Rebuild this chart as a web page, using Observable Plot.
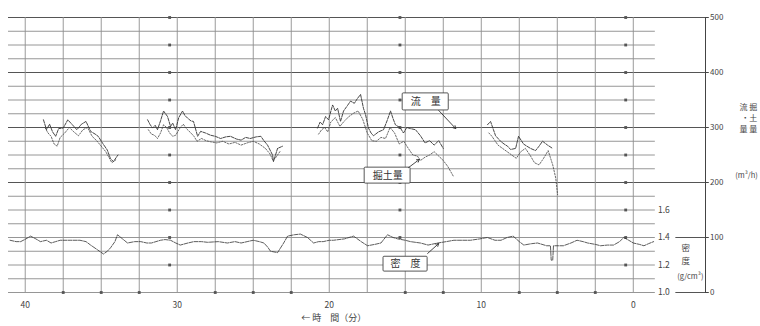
<!DOCTYPE html>
<html><head><meta charset="utf-8">
<script src="https://cdn.jsdelivr.net/npm/d3@7"></script>
<script src="https://cdn.jsdelivr.net/npm/@observablehq/plot@0.6"></script>
<style>body{margin:0;background:#fff}</style>
</head><body><div id="chart"></div>
<script>
// time (minutes before end) , value (m3/h); NaN = gap in record
const flowSeries = [
 [38.8,314],[38.6,296],[38.4,306],[38.2,292],[38.0,284],[37.8,298],[37.5,299],[37.2,314],[36.9,305],[36.6,296],[36.3,306],[36.0,311],[35.7,293],[35.4,288],[35.2,284],[34.9,271],[34.6,259],[34.4,244],[34.2,238],[33.9,250],
 [33.0,NaN],
 [31.95,314],[31.8,306],[31.63,299],[31.45,304],[31.3,296],[31.1,312],[30.9,330],[30.64,320],[30.44,302],[30.3,308],[30.11,296],[29.9,318],[29.65,330],[29.5,322],[29.32,317],[29.1,312],[28.93,311],[28.66,284],[28.46,293],[28.14,290],[27.81,286],[27.5,284],[27.15,280],[26.8,283],[26.5,284],[26.1,279],[25.8,277],[25.5,282],[25.2,280],[24.8,283],[24.5,284],[24.3,276],[24.06,268],[23.73,250],[23.67,238],[23.4,262],[23.07,266],
 [22.0,NaN],
 [20.77,299],[20.6,310],[20.44,305],[20.24,320],[20.05,314],[19.78,341],[19.6,330],[19.45,335],[19.26,311],[19.06,330],[18.8,340],[18.6,348],[18.35,344],[18.14,353],[17.94,360],[17.75,335],[17.61,323],[17.42,299],[17.25,290],[17.09,285],[16.76,292],[16.43,296],[16.2,312],[15.97,330],[15.8,316],[15.65,305],[15.32,299],[15.12,290],[14.9,300],[14.66,298],[14.33,296],[14.0,285],[13.7,272],[13.4,276],[13.1,268],[12.8,276],[12.5,262],
 [11.0,NaN],
 [9.59,305],[9.39,311],[9.2,296],[9.06,285],[8.73,275],[8.5,270],[8.27,266],[8.07,260],[7.74,262],[7.55,284],[7.22,270],[7.0,266],[6.76,262],[6.43,258],[6.2,266],[5.97,275],[5.64,268],[5.31,262]
];
const soilSeries = [
 [38.7,300],[38.5,290],[38.3,284],[38.1,270],[37.9,266],[37.7,282],[37.4,290],[37.1,300],[36.8,292],[36.5,285],[36.2,296],[35.9,300],[35.6,284],[35.3,276],[35.0,266],[34.7,256],[34.5,246],[34.3,236],[34.0,242],
 [33.0,NaN],
 [31.9,296],[31.7,288],[31.5,286],[31.3,280],[31.1,290],[30.9,305],[30.7,300],[30.5,290],[30.3,284],[30.1,286],[29.8,300],[29.6,306],[29.4,298],[29.1,290],[28.9,284],[28.7,275],[28.4,280],[28.1,276],[27.8,274],[27.4,272],[27.0,275],[26.6,270],[26.2,273],[25.8,268],[25.4,272],[25.0,275],[24.6,270],[24.2,262],[23.9,252],[23.7,240],[23.5,246],[23.2,258],
 [22.0,NaN],
 [20.7,288],[20.5,296],[20.3,300],[20.1,292],[19.9,310],[19.6,318],[19.3,302],[19.0,312],[18.7,320],[18.4,326],[18.1,330],[17.8,315],[17.5,290],[17.2,276],[16.9,275],[16.6,282],[16.3,280],[16.0,300],[15.7,290],[15.4,270],[15.1,275],[14.8,262],[14.5,250],[14.2,248],[14.0,240],[13.7,246],[13.4,250],[13.1,256],[12.8,248],[12.5,240],[12.2,229],[11.83,211],
 [11.0,NaN],
 [9.5,290],[9.3,284],[9.1,276],[8.9,268],[8.6,262],[8.3,256],[8.0,250],[7.7,244],[7.4,256],[7.1,262],[6.8,250],[6.5,236],[6.2,232],[5.9,244],[5.6,258],[5.3,232],[5.1,208],[4.98,178]
];
// density g/cm3
const densitySeries = [
 [41.0,1.38],[40.6,1.37],[40.3,1.37],[39.95,1.39],[39.65,1.41],[39.3,1.39],[39.0,1.37],[38.6,1.38],[38.3,1.36],[38.0,1.37],[37.7,1.38],[37.0,1.38],[36.4,1.38],[36.0,1.37],[35.7,1.345],[35.24,1.31],[34.85,1.28],[34.6,1.30],[34.39,1.325],[34.1,1.37],[33.93,1.42],[33.6,1.39],[33.27,1.36],[32.8,1.37],[32.4,1.37],[32.0,1.36],[31.7,1.36],[31.4,1.37],[31.1,1.38],[30.8,1.385],[30.44,1.38],[30.1,1.36],[29.8,1.345],[29.3,1.36],[28.9,1.37],[28.4,1.37],[28.0,1.365],[27.3,1.37],[26.7,1.36],[26.2,1.37],[25.8,1.36],[25.4,1.37],[25.0,1.38],[24.6,1.37],[24.3,1.36],[24.05,1.33],[23.86,1.30],[23.4,1.29],[23.0,1.36],[22.74,1.41],[22.3,1.42],[21.9,1.425],[21.43,1.40],[21.03,1.36],[20.7,1.37],[20.4,1.37],[20.0,1.38],[19.72,1.38],[19.0,1.39],[18.4,1.41],[17.9,1.37],[17.48,1.34],[17.0,1.35],[16.6,1.36],[16.17,1.42],[15.8,1.40],[15.5,1.39],[15.0,1.38],[14.66,1.37],[14.0,1.36],[13.5,1.345],[12.86,1.36],[12.3,1.37],[11.8,1.38],[11.2,1.38],[10.7,1.38],[10.1,1.39],[9.6,1.40],[9.1,1.38],[8.7,1.38],[8.3,1.40],[7.9,1.41],[7.5,1.37],[7.2,1.345],[6.7,1.355],[6.3,1.36],[5.7,1.34],[5.45,1.34],[5.4,1.235],[5.3,1.235],[5.25,1.34],[4.9,1.34],[4.6,1.34],[4.1,1.36],[3.7,1.38],[3.3,1.37],[3.0,1.36],[2.5,1.35],[2.15,1.34],[1.7,1.345],[1.3,1.345],[0.9,1.37],[0.63,1.40],[0.3,1.38],[0.0,1.36],[-0.4,1.35],[-0.7,1.34],[-1.0,1.355],[-1.34,1.37]
];
const timeTicks = [40, 30, 20, 10, 0];
const rateTicks = [0, 100, 200, 300, 400, 500];
const densityTicks = [1.0, 1.2, 1.4, 1.6];
const markerColumns = [30.5, 15.35, 0.5];
const bottomMarkers = [37.5, 35, 32.5, 27.5, 25, 22.5, 15, 12.5, 7.5, 5, 2.5];
const boxes = [
 {label:"流　量", x1:15.17, x2:12.14, y1:331, y2:362, ax1:12.8, ay1:331, ax2:11.68, ay2:298},
 {label:"掘土量", x1:17.67, x2:14.65, y1:198, y2:227, ax1:14.79, ay1:227, ax2:14.07, ay2:242},
 {label:"密　度", x1:16.43, x2:13.53, y1:38, y2:65, ax1:13.53, ay1:71, ax2:12.8, ay2:89}
];
const rateTitle = ["流 掘", "・土", "量 量"];
const densityTitle = ["密", "度"];

const dens = d => (d - 1) * 250; // density on the shared right scale
const gridLevels = d3.range(0, 501, 25);
const timeGrid = d3.range(0, 40.01, 2.5);
const markers = markerColumns.flatMap(t => d3.range(50, 501, 50).map(v => [t, v]));
const X0 = 41.1, XG = -1.45, XA = -4.75;
const ink = "#444", font = "'Noto Sans CJK JP', 'Noto Sans', sans-serif";

const chart = Plot.plot({
  width: 760, height: 326,
  marginLeft: 8, marginRight: 55, marginTop: 17, marginBottom: 34,
  x: {domain: [X0, XA], axis: null},
  y: {domain: [0, 500], axis: null},
  style: {fontFamily: font, background: "#fff", color: ink},
  marks: [
    Plot.ruleY(gridLevels, {x1: X0, x2: XG, stroke: "#8a8a8a", strokeWidth: 0.9}),
    Plot.ruleY([200, 300, 400, 500], {x1: X0, x2: XA, stroke: "#555", strokeWidth: 1}),
    Plot.ruleY([0, 100], {x1: -2.8, x2: XA, stroke: "#555", strokeWidth: 1}),
    Plot.ruleX(timeGrid, {y1: 0, y2: 500, stroke: "#8f8f8f", strokeWidth: 0.9}),
    Plot.ruleX([XA], {y1: 0, y2: 500, stroke: "#444", strokeWidth: 1}),
    Plot.ruleY(rateTicks, {x1: XA, x2: -5.0, stroke: "#444"}),
    Plot.dot(markers, {x: d => d[0], y: d => d[1], symbol: "square", r: 1.6, fill: "#555"}),
    Plot.dot(bottomMarkers, {x: d => d, y: 0, symbol: "square", r: 1.6, fill: "#555"}),
    Plot.line(densitySeries, {x: d => d[0], y: d => dens(d[1]), stroke: "#333", strokeWidth: 0.8, strokeDasharray: "4,1.2"}),
    Plot.line(soilSeries, {x: d => d[0], y: d => d[1], stroke: "#444", strokeWidth: 0.8, strokeDasharray: "1.5,1.5"}),
    Plot.line(flowSeries, {x: d => d[0], y: d => d[1], stroke: "#333", strokeWidth: 0.9, strokeDasharray: "3,1.2"}),
    Plot.rect(boxes, {x1: "x1", x2: "x2", y1: "y1", y2: "y2", fill: "#fff", stroke: "#444", strokeWidth: 0.9, rx: 1}),
    Plot.text(boxes, {x: d => (d.x1 + d.x2) / 2, y: d => (d.y1 + d.y2) / 2, text: "label", fontSize: 10, fill: "#333"}),
    Plot.arrow(boxes, {x1: "ax1", y1: "ay1", x2: "ax2", y2: "ay2", stroke: "#333", strokeWidth: 0.9, headLength: 5}),
    Plot.text(rateTicks, {x: -5.05, y: d => d, text: d => String(d), textAnchor: "start", fontSize: 8, fill: ink}),
    Plot.text(densityTicks, {x: -1.62, y: dens, text: d => d.toFixed(1), textAnchor: "start", fontSize: 8.5, fill: ink}),
    Plot.text(timeTicks, {x: d => d, y: -23, text: d => String(d), fontSize: 8.5, fill: ink}),
    Plot.text(["← 時　間（分）"], {x: 19.7, y: -47, text: d => d, fontSize: 9, fill: ink}),
    Plot.text(rateTitle, {x: -8.15, y: (d, i) => [337, 317, 297][i], text: d => d, textAnchor: "end", fontSize: 8, fill: ink}),
    Plot.text(["(m³/h)"], {x: -7.45, y: 213, text: d => d, fontSize: 7.5, fill: ink}),
    Plot.text(densityTitle, {x: -3.45, y: (d, i) => [80, 56][i], text: d => d, fontSize: 8.5, fill: ink}),
    Plot.text(["(g/cm³)"], {x: -3.75, y: 29, text: d => d, fontSize: 7.5, fill: ink})
  ]
});
document.getElementById("chart").append(chart);
</script></body></html>
